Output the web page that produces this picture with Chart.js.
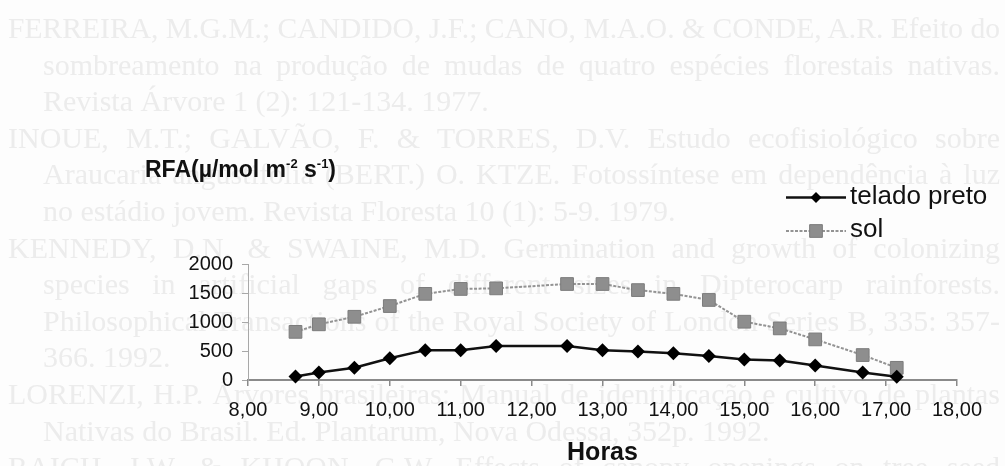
<!DOCTYPE html>
<html lang="pt">
<head>
<meta charset="utf-8">
<title>RFA - telado preto e sol</title>
<script src="https://cdn.jsdelivr.net/npm/chart.js@4.4.1/dist/chart.umd.min.js"></script>
<style>
  html, body { margin: 0; padding: 0; width: 1005px; height: 466px; overflow: hidden; background: #fdfdfd; }
  #fundo { position: absolute; left: 0; top: 0; width: 1005px; height: 466px; overflow: hidden;
           font-family: "Liberation Serif", "Times New Roman", serif; font-size: 30px; line-height: 30px;
           color: #ececec; filter: blur(0.7px); }
  #fundo .linha { position: absolute; white-space: nowrap; display: inline-block; transform-origin: 0 0; }
  #grafico { position: absolute; left: 0; top: 0; }
  #rotuloY { position: absolute; left: 145px; top: 158px; white-space: nowrap; color: #111;
             font: bold 23px "Liberation Sans", Arial, sans-serif; line-height: 23px; }
  #rotuloY sup { font-size: 13px; line-height: 0; vertical-align: 9px; }
</style>
</head>
<body>
<div id="fundo"></div>
<canvas id="grafico" width="1005" height="466"></canvas>
<div id="rotuloY">RFA(µ/mol m<sup>-2</sup> s<sup>-1</sup>)</div>
<script>
// horas do dia (decimal) em que a RFA foi medida
const horas = [8.67, 9, 9.5, 10, 10.5, 11, 11.5, 12.5, 13, 13.5, 14, 14.5, 15, 15.5, 16, 16.67, 17.15];
// RFA sob telado preto
const teladoPreto = [60, 130, 210, 375, 515, 515, 585, 585, 515, 490, 460, 415, 355, 335, 250, 130, 55];
// RFA a pleno sol
const sol = [830, 960, 1090, 1275, 1485, 1570, 1580, 1655, 1655, 1550, 1485, 1380, 1005, 890, 700, 430, 210];
const ticksX = [8, 9, 10, 11, 12, 13, 14, 15, 16, 17, 18];
const ticksY = [0, 500, 1000, 1500, 2000];

// texto da página escaneada que aparece por trás do gráfico
const textoFundo = [
  ["FERREIRA, M.G.M.; CANDIDO, J.F.; CANO, M.A.O. & CONDE, A.R. Efeito do", 8, true],
  ["sombreamento na produção de mudas de quatro espécies florestais nativas.", 43, true],
  ["Revista Árvore 1 (2): 121-134. 1977.", 43, false],
  ["INOUE, M.T.; GALVÃO, F. & TORRES, D.V. Estudo ecofisiológico sobre", 8, true],
  ["Araucaria angustifolia (BERT.) O. KTZE. Fotossíntese em dependência à luz", 43, true],
  ["no estádio jovem. Revista Floresta 10 (1): 5-9. 1979.", 43, false],
  ["KENNEDY, D.N. & SWAINE, M.D. Germination and growth of colonizing", 8, true],
  ["species in artificial gaps of different sizes in Dipterocarp rainforests.", 43, true],
  ["Philosophical Transactions of the Royal Society of London Series B, 335: 357-", 43, true],
  ["366. 1992.", 43, false],
  ["LORENZI, H.P. Árvores brasileiras: Manual de identificação e cultivo de plantas", 8, true],
  ["Nativas do Brasil. Ed. Plantarum, Nova Odessa, 352p. 1992.", 43, false],
  ["RAICH, J.W. & KHOON, G.W. Effects of canopy openings on tree seed", 8, true]
];

const fundo = document.getElementById('fundo');
textoFundo.forEach(([texto, recuo, justificar], i) => {
  const el = document.createElement('span');
  el.className = 'linha';
  el.textContent = texto;
  el.style.left = recuo + 'px';
  el.style.top = (38 + 36.6 * i - 25) + 'px';
  fundo.appendChild(el);
  const alvo = 1000 - recuo;
  const w = el.getBoundingClientRect().width;
  const espacos = (texto.match(/ /g) || []).length;
  if (w > alvo) {
    el.style.transform = 'scaleX(' + (alvo / w) + ')';
  } else if (justificar && espacos) {
    el.style.wordSpacing = ((alvo - w) / espacos) + 'px';
  }
});

const fonte = '"Liberation Sans", Arial, sans-serif';

// legenda à direita, desenhada com o estilo de cada série
const legendaLateral = {
  id: 'legendaLateral',
  afterDraw(chart, args, opts) {
    const ctx = chart.ctx;
    chart.data.datasets.forEach((ds, i) => {
      const y = opts.linhas[i];
      ctx.save();
      ctx.strokeStyle = ds.borderColor;
      ctx.lineWidth = ds.borderWidth;
      ctx.setLineDash(ds.borderDash || []);
      ctx.beginPath();
      ctx.moveTo(opts.x, y);
      ctx.lineTo(opts.x + opts.largura, y);
      ctx.stroke();
      ctx.setLineDash([]);
      ctx.fillStyle = ds.pointBackgroundColor || ds.backgroundColor;
      ctx.strokeStyle = ds.pointBorderColor || ds.borderColor;
      ctx.lineWidth = ds.pointBorderWidth || 0;
      Chart.helpers.drawPoint(ctx, {
        pointStyle: ds.pointStyle,
        radius: opts.raios[i],
        rotation: 0,
        borderWidth: ds.pointBorderWidth || 0
      }, opts.x + opts.largura / 2, y);
      ctx.fillStyle = '#111';
      ctx.font = '26px ' + fonte;
      ctx.textBaseline = 'middle';
      ctx.fillText(ds.label, opts.x + opts.largura + 4, y - 1);
      ctx.restore();
    });
  }
};

new Chart(document.getElementById('grafico'), {
  type: 'line',
  data: {
    datasets: [
      {
        label: 'telado preto',
        data: horas.map((h, i) => ({ x: h, y: teladoPreto[i] })),
        borderColor: '#111',
        backgroundColor: '#000',
        pointBackgroundColor: '#000',
        pointBorderColor: '#000',
        borderWidth: 2.5,
        pointStyle: 'rectRot',
        pointRadius: 7,
        pointBorderWidth: 0,
        tension: 0,
        clip: false
      },
      {
        label: 'sol',
        data: horas.map((h, i) => ({ x: h, y: sol[i] })),
        borderColor: '#939393',
        backgroundColor: '#8e8e8e',
        pointBackgroundColor: '#8e8e8e',
        pointBorderColor: '#7c7c7c',
        borderWidth: 2,
        borderDash: [3, 1.5],
        pointStyle: 'rect',
        pointRadius: 9,
        pointBorderWidth: 1,
        tension: 0,
        clip: false
      }
    ]
  },
  options: {
    responsive: false,
    animation: false,
    layout: { padding: { left: 0, right: 48, top: 264, bottom: 0 } },
    plugins: {
      legend: { display: false },
      tooltip: { enabled: false },
      legendaLateral: { x: 786, largura: 60, linhas: [197.5, 231], raios: [5.5, 9] }
    },
    scales: {
      x: {
        type: 'linear',
        min: 8,
        max: 18,
        afterBuildTicks: s => { s.ticks = ticksX.map(v => ({ value: v })); },
        afterFit: s => { s.height = 86; },
        ticks: {
          callback: v => v.toFixed(2).replace('.', ','),
          font: { family: fonte, size: 20 },
          color: '#111',
          padding: 12,
          maxRotation: 0,
          autoSkip: false
        },
        grid: { drawOnChartArea: false, tickLength: 6, color: '#8a8a8a', lineWidth: 1.5 },
        border: { color: '#8a8a8a', width: 2 },
        title: {
          display: true,
          text: 'Horas',
          color: '#111',
          font: { family: fonte, size: 25, weight: 'bold', lineHeight: 1 },
          padding: 0
        }
      },
      y: {
        min: 0,
        max: 2000,
        afterBuildTicks: s => { s.ticks = ticksY.map(v => ({ value: v })); },
        afterFit: s => { s.width = 248; },
        ticks: {
          callback: v => String(v),
          font: { family: fonte, size: 20 },
          color: '#111',
          padding: 9
        },
        grid: { drawOnChartArea: false, tickLength: 6, color: '#a8a8a8' },
        border: { color: '#a8a8a8', width: 1 }
      }
    }
  },
  plugins: [legendaLateral]
});
</script>
</body>
</html>
